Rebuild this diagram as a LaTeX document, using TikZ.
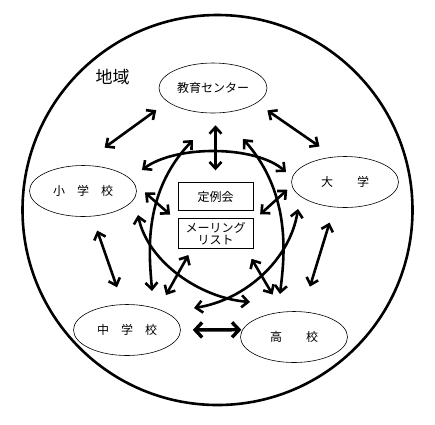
\documentclass[tikz,border=0pt]{standalone}
\usepackage{fontspec}
\setmainfont{Noto Sans CJK JP}
\usetikzlibrary{shapes.geometric, arrows.meta, positioning}

\begin{document}
\begin{tikzpicture}[x=1pt, y=-1pt, arrow/.style={{Straight Barb[length=6.5pt,width=12pt]}-{Straight Barb[length=6.5pt,width=12pt]}, line width=2.6pt}]
\tikzstyle{school} = [ellipse, draw, line width=0.6pt, minimum width=107pt, minimum height=51pt, inner sep=0pt, font=\fontsize{12}{14}\selectfont]
\tikzstyle{box} = [rectangle, draw, line width=0.8pt, minimum width=75pt, inner sep=1pt, align=center, font=\fontsize{12}{12.5}\selectfont]
\useasboundingbox (0,0) rectangle (435,424);
\draw[line width=2.6pt] (217.5,210) circle (195);
\node[font=\fontsize{17}{17}\selectfont] (chiiki) at (112.5,77) {地域};
\node[school, minimum width=108pt, minimum height=50pt] (kyo) at (213,88) {教育センター};
\node[school] (sho) at (83,191) {小　学　校};
\node[school] (dai) at (345,182) {大　　学};
\node[school] (chu) at (127,330) {中　学　校};
\node[school] (kou) at (294,337) {高　　校};
\node[box, minimum height=28pt, below=69pt of kyo, xshift=2.5pt] (rei) {定例会};
\node[box, minimum height=30pt, below=7pt of rei] (ml) {メーリング\\リスト};
% straight arrows
\draw[arrow, shorten <=14pt, shorten >=30pt] (kyo.197) -- (sho.96);
\draw[arrow, shorten <=13pt, shorten >=18pt] (kyo.341) -- (dai.113);
\draw[arrow, shorten <=12pt, shorten >=12pt] (rei.north |- kyo.south) -- (rei.north);
\draw[arrow, shorten <=15pt, shorten >=18pt] (sho.290) -- (chu.99);
\draw[arrow, shorten <=16pt, shorten >=26pt] (dai.247) -- (kou.72);
\draw[arrow, line width=3.4pt, {Straight Barb[length=7pt,width=15pt]}-{Straight Barb[length=7pt,width=15pt]}, shorten <=12pt, shorten >=1pt] (chu.east) -- (kou.172);
\draw[arrow, shorten <=14.5pt, shorten >=10pt] (sho.9) -- (ml.162);
\draw[arrow, shorten <=6pt, shorten >=9pt] (dai.184) -- (ml.19);
\draw[arrow, shorten <=7pt, shorten >=16pt] (ml.213) -- (chu.34);
\draw[arrow, shorten <=11.5pt, shorten >=20pt] (ml.333) -- (kou.114);
% arcs
\draw[arrow] ([shift={(59,-21)}]sho.center) .. controls +(33,-25) and +(-31,-27) .. ([shift={(-59,-10)}]dai.center);
\draw[arrow] ([shift={(-20,52)}]kyo.center) .. controls +(-53,55) and +(-2,-31) .. ([shift={(25,-39)}]chu.center);
\draw[arrow] ([shift={(30,51)}]kyo.center) .. controls +(50,56) and +(4,-34) .. ([shift={(-14,-43)}]kou.center);
\draw[arrow] ([shift={(55,24)}]sho.center) .. controls +(10,47) and +(-50,-4) .. ([shift={(-44,-35)}]kou.center);
\draw[arrow] ([shift={(-47,27)}]dai.center) .. controls +(-8,51) and +(51,-8) .. ([shift={(67,-22)}]chu.center);
\end{tikzpicture}
\end{document}
